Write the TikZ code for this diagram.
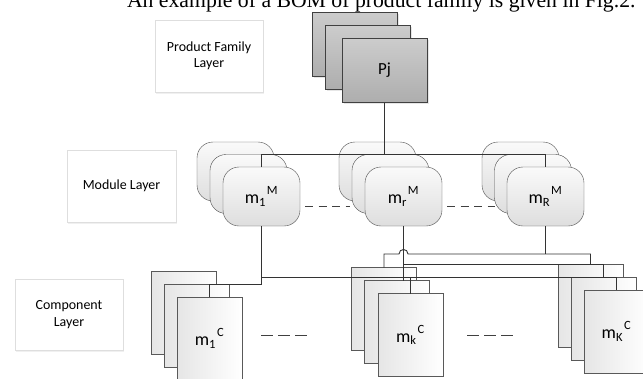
\documentclass[tikz,border=0pt]{standalone}
\usepackage{fontspec}
\setmainfont{Carlito}
\newfontfamily\captionfont{Liberation Serif}
\usetikzlibrary{calc,positioning,shadows}
\newcommand{\bomlab}[3]{#1\textsubscript{#2}\kern1bp\textsuperscript{\raisebox{2.5bp}{#3}}}

\begin{document}
\begin{tikzpicture}[x=1bp,y=-1bp,inner sep=0pt,outer sep=0pt,
  layerbox/.style={draw=black!13,fill=white,minimum width=108bp,minimum height=72bp,align=center,
    font=\fontsize{14}{16.5}\selectfont,drop shadow={opacity=.12,shadow xshift=1bp,shadow yshift=-1.5bp}},
  famcard/.style={draw=black!75,top color=black!20,bottom color=black!32,minimum width=85bp,minimum height=64bp,
    font=\fontsize{17}{20}\selectfont,drop shadow={opacity=.2,shadow xshift=1.5bp,shadow yshift=-1.5bp}},
  modcard/.style={draw=black!70,rounded corners=16bp,top color=black!2,bottom color=black!13,
    minimum width=77bp,minimum height=59bp,font=\fontsize{18}{20}\selectfont},
  compcard/.style={draw=black!65,left color=black!10,right color=white,
    minimum width=65bp,minimum height=83bp,font=\fontsize{18}{20}\selectfont},
  conn/.style={draw=black!80,line width=0.9bp},
  gapline/.style={draw=black!75,line width=0.9bp,dash pattern=on 8bp off 5.5bp}]
\useasboundingbox (0,0) rectangle (643,378);
\node[anchor=base west,font=\captionfont\fontsize{21.8}{24}\selectfont] (caption) at (127,7)
  {An example of a BOM of product family is given in Fig.2.};
\node[layerbox] (pfl) at (209,56) {Product Family\\Layer};
\node[layerbox,minimum width=109bp] (ml) at (121.5,186) {Module Layer};
\node[layerbox,minimum height=71bp] (cl) at (69,314.5) {Component\\Layer};
\node[famcard] (pj1) at (354.5,44) {};
\node[famcard] (pj2) at (368,57) {};
\node[famcard] (pj3) at (384.5,70.5) {Pj};
\node[modcard] (mA1) at (235.5,171.5) {};
\node[modcard] (mA2) at (248.5,184) {};
\node[modcard] (mA3) at (261.5,196.5) {\bomlab{m}{1}{M}};
\node[modcard] (mB1) at (377.5,171.5) {};
\node[modcard] (mB2) at (390.5,184) {};
\node[modcard] (mB3) at (403.5,196.5) {\bomlab{m}{r}{M}};
\node[modcard] (mC1) at (520.5,171.5) {};
\node[modcard] (mC2) at (533,184) {};
\node[modcard] (mC3) at (545.5,196.5) {\bomlab{m}{R}{M}};
\node[compcard] (cA1) at (183.5,312.5) {};
\node[compcard] (cA2) at (196.5,325.5) {};
\node[compcard] (cA3) at (209.5,338.5) {\bomlab{m}{1}{C}};
\node[compcard] (cB1) at (384,309) {};
\node[compcard] (cB2) at (397,322) {};
\node[compcard] (cB3) at (410.5,335) {\bomlab{m}{k}{C}};
\node[compcard] (cC1) at (590.5,305.5) {};
\node[compcard] (cC2) at (603.5,318.5) {};
\node[compcard] (cC3) at (616.5,331.5) {\bomlab{m}{K}{C}};
\coordinate (busM) at (0,154);
\coordinate (busR) at (0,254);
\draw[conn] (pj3.south) -- (pj3.south |- busM);
\draw[conn] (mA3.north) -- (mA3.north |- busM) -- (mC3.north |- busM) -- (mC3.north);
\draw[conn] (mA3.south) -- (mA3.south |- cA2.north) -| (cA3.north);
\draw[conn] (mA3.south |- cC2.north) -| (cC3.north);
\draw[conn] (cB3.north |- cC2.north) -- (cB3.north);
\draw[conn] (mB3.south) -- (mB3.south |- cB2.north);
\draw[conn] (mB3.south |- cC1.north) -| (cC2.north);
\draw[conn] (mC3.south) -- (mC3.south |- busR);
\draw[conn] (cC1.north) -- (cC1.north |- busR) -- ($(mB3.south |- busR)+(4.5,0)$)
  .. controls +(0,-6) and +(0,-6) .. ($(mB3.south |- busR)+(-4.5,0)$) -- (cB1.north |- busR) -- (cB1.north);
\draw[gapline] (305,206) -- (350,206);
\draw[gapline] (447,206) -- (495,206);
\draw[gapline,dash pattern=on 12bp off 5bp] (261,335) -- (307,335);
\draw[gapline,dash pattern=on 12bp off 5bp] (467,335) -- (513,335);
\end{tikzpicture}
\end{document}
